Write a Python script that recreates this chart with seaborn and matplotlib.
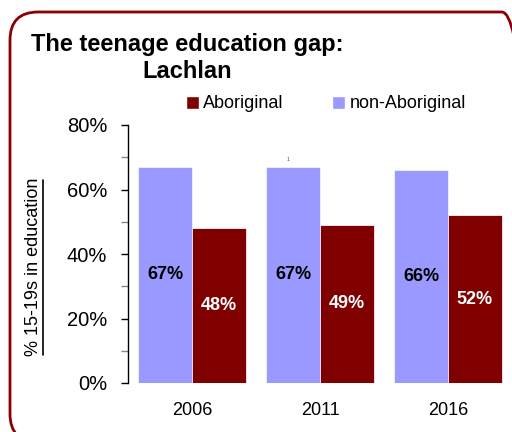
import matplotlib
matplotlib.use("Agg")
import matplotlib.pyplot as plt
from matplotlib.patches import FancyBboxPatch, Patch
from matplotlib.lines import Line2D
from matplotlib.ticker import MultipleLocator, FuncFormatter
import seaborn as sns
import pandas as pd

# Data
years = ["2006", "2011", "2016"]
aboriginal = [48, 49, 52]
non_aboriginal = [67, 67, 66]
groups = ["non-Aboriginal", "Aboriginal"]
colors = {"non-Aboriginal": "#9999FF", "Aboriginal": "#800000"}
label_colors = {"non-Aboriginal": "black", "Aboriginal": "white"}

df = pd.DataFrame({
    "year": years * 2,
    "value": non_aboriginal + aboriginal,
    "group": ["non-Aboriginal"] * 3 + ["Aboriginal"] * 3,
})

sns.set_style("white")
plt.rcParams["font.family"] = ["Liberation Sans", "DejaVu Sans"]
plt.rcParams["text.color"] = "black"
plt.rcParams["xtick.labelcolor"] = "black"
plt.rcParams["ytick.labelcolor"] = "black"

fig = plt.figure(figsize=(5.12, 4.32), dpi=100)
ax = fig.add_axes([128 / 512, 1 - 383 / 432, 1 - 128 / 512, (383 - 125) / 432])

sns.barplot(data=df, x="year", y="value", hue="group", hue_order=groups,
            palette=colors, width=0.84, gap=0, saturation=1, ax=ax,
            edgecolor="#f0f0ff", linewidth=0.6, legend=False)

# value labels centred in each bar
for container, grp in zip(ax.containers, groups):
    for bar in container:
        h = bar.get_height()
        ax.text(bar.get_x() + bar.get_width() / 2, h / 2, f"{h:.0f}%",
                ha="center", va="center", fontsize=13, fontweight="bold",
                color=label_colors[grp])

ax.text(0.75, 68.5, "1", ha="center", va="bottom", fontsize=4, color="#555555")

ax.set_xlim(-0.5, 2.5)
ax.set_ylim(0, 80)
ax.yaxis.set_major_locator(MultipleLocator(20))
ax.yaxis.set_minor_locator(MultipleLocator(10))
ax.yaxis.set_major_formatter(FuncFormatter(lambda v, p: f"{v:.0f}%"))
ax.tick_params(axis="y", which="major", left=True, length=5, width=1,
               labelsize=14.5, pad=10, color="black", labelcolor="black")
ax.tick_params(axis="y", which="minor", left=True, length=5, width=1,
               color="#888888")
ax.tick_params(axis="x", bottom=False, labelsize=13, pad=10, labelcolor="black")
ax.set_xlabel("")
ax.set_ylabel("")
for side in ["top", "right", "bottom"]:
    ax.spines[side].set_visible(False)
ax.spines["left"].set_color("black")
ax.spines["left"].set_linewidth(1)

# axis title with underline
fig.text(34 / 512, 1 - 267 / 432, "% 15-19s in education", rotation=90,
         ha="center", va="center", fontsize=13, color="black")
fig.add_artist(Line2D([43 / 512, 43 / 512], [1 - 180 / 432, 1 - 355 / 432],
                      transform=fig.transFigure, color="black", lw=1.2))

# title
fig.text(187 / 512, 1 - 45 / 432, "The teenage education gap:", ha="center",
         va="center", fontsize=17, fontweight="bold", color="black")
fig.text(187 / 512, 1 - 72 / 432, "Lachlan", ha="center",
         va="center", fontsize=17, fontweight="bold", color="black")

# legend
handles = [Patch(facecolor=colors["Aboriginal"], label="Aboriginal"),
           Patch(facecolor=colors["non-Aboriginal"], label="non-Aboriginal")]
fig.legend(handles=handles, loc="center left",
           bbox_to_anchor=(186 / 512, 1 - 104 / 432), ncol=2, frameon=False,
           fontsize=13, handlelength=0.7, handleheight=0.7,
           handletextpad=0.25, columnspacing=2.7, borderpad=0, borderaxespad=0,
           labelcolor="black")

# rounded frame around the chart
frame = FancyBboxPatch((10 / 512, 1 - 442 / 432), 520 / 512, 430 / 432,
                       boxstyle="round,pad=0,rounding_size=0.055",
                       transform=fig.transFigure, facecolor="none",
                       edgecolor="#8B0000", linewidth=2, mutation_aspect=512 / 432)
fig.add_artist(frame)

fig.savefig("out.png", dpi=100)
